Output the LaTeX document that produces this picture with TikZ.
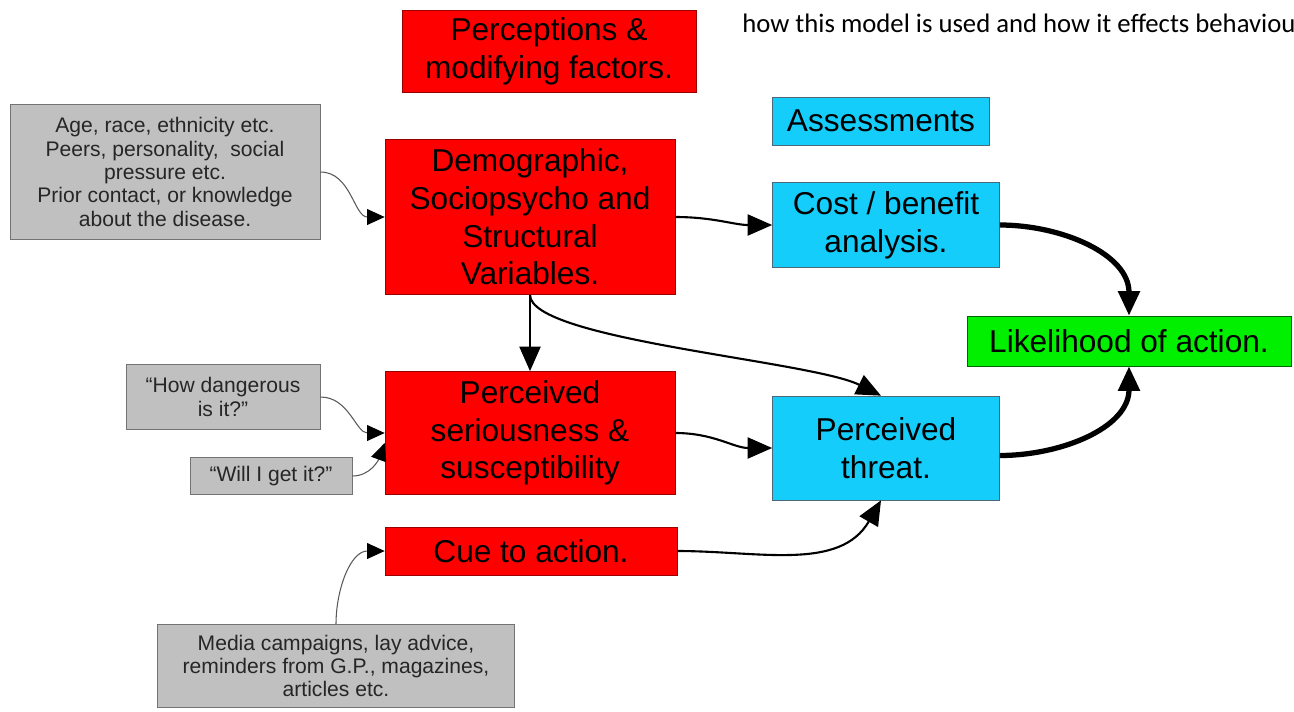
\documentclass[tikz,border=0pt]{standalone}
\usepackage{fontspec}
\setmainfont{Liberation Sans}
\newfontfamily\notefont{Carlito}
\usepackage{tikz}
\usetikzlibrary{arrows.meta}
\definecolor{boxred}{RGB}{255,0,0}
\definecolor{boxcyan}{RGB}{20,205,250}
\definecolor{boxgreen}{RGB}{0,240,0}
\definecolor{boxgray}{RGB}{192,192,192}
\tikzset{big/.style={rectangle, inner sep=0pt, align=center, font=\fontsize{18}{21.5}\selectfont}}
\tikzset{factor/.style={big, fill=boxred, draw=red!60!black}}
\tikzset{assess/.style={big, fill=boxcyan, draw=cyan!40!black}}
\tikzset{outcome/.style={big, fill=boxgreen, draw=green!40!black}}
\tikzset{note/.style={rectangle, inner sep=0pt, align=center, fill=boxgray, draw=black!55, text=black!85, font=\fontsize{12}{13.3}\selectfont}}
\tikzset{cue/.style={->, >={Triangle[length=10pt, width=9pt, color=black]}, draw=black!65, line width=0.6pt}}
\tikzset{link/.style={->, >={Triangle[length=14pt, width=12pt]}, line width=1.2pt}}
\tikzset{heavy/.style={->, >={Triangle[length=14pt, width=12pt]}, line width=3pt}}

\begin{document}
\begin{tikzpicture}[x=0.02cm, y=-0.02cm]
		\useasboundingbox (0,0) rectangle (1294,711);
		\node[anchor=base west, inner sep=0pt, font=\notefont\fontsize{15.2}{17}\selectfont] at (742,32) (header) {how this model is used and how it effects behaviou};

		\node[factor, minimum width=5.88cm, minimum height=1.64cm] at (549,51) (percep) {Perceptions \&\\modifying factors.};
		\node[factor, minimum width=5.8cm, minimum height=3.1cm] at (530,217) (demog) {Demographic,\\Sociopsycho and\\Structural\\Variables.};
		\node[factor, minimum width=5.8cm, minimum height=2.46cm] at (530,433) (serious) {Perceived\\seriousness \&\\susceptibility};
		\node[factor, minimum width=5.84cm, minimum height=0.96cm] at (531,551) (cueact) {Cue to action.};

		\node[assess, minimum width=4.34cm, minimum height=0.96cm] at (881,121) (assessments) {Assessments};
		\node[assess, minimum width=4.54cm, minimum height=1.7cm] at (886,225) (cost) {Cost / benefit\\analysis.};
		\node[assess, minimum width=4.54cm, minimum height=2.08cm] at (886,448) (threat) {Perceived\\threat.};
		\node[outcome, minimum width=6.48cm, minimum height=1.0cm] at (1129,341) (likely) {Likelihood of action.};

		\node[note, minimum width=6.2cm, minimum height=2.7cm] at (165,172) (variables) {Age, race, ethnicity etc.\\Peers, personality,\ \ social\\pressure etc.\\Prior contact, or knowledge\\about the disease.};
		\node[note, minimum width=3.88cm, minimum height=1.3cm] at (223,397) (danger) {“How dangerous\\is it?”};
		\node[note, minimum width=3.24cm, minimum height=0.74cm] at (271,476) (getit) {“Will I get it?”};
		\node[note, minimum width=7.14cm, minimum height=1.66cm] at (336,666) (media) {Media campaigns, lay advice,\\reminders from G.P., magazines,\\articles etc.};

		\draw[cue] (variables.east) to[out=0, in=180] (demog.west);
		\draw[cue] (danger.east) to[out=0, in=180] (serious.west);
		\draw[cue] (getit.east) to[out=0, in=-110] ([yshift=-0.2cm]serious.west);
		\draw[cue] (media.north) to[out=90, in=180] (cueact.west);

		\draw[link] (demog.south) -- (serious.north);
		\draw[link] (demog.east) to[out=0, in=180] (cost.west);
		\draw[link] (demog.south) .. controls +(0,45) and +(-70,-35) .. ([xshift=-0.1cm]threat.north);
		\draw[link] (serious.east) to[out=0, in=180] (threat.west);
		\draw[link] (cueact.east) to[out=0, in=-120] ([xshift=-0.1cm]threat.south);

		\draw[heavy] (cost.east) to[out=0, in=90] (likely.north);
		\draw[heavy] ([yshift=-0.15cm]threat.east) to[out=0, in=-90] (likely.south);
\end{tikzpicture}
\end{document}
